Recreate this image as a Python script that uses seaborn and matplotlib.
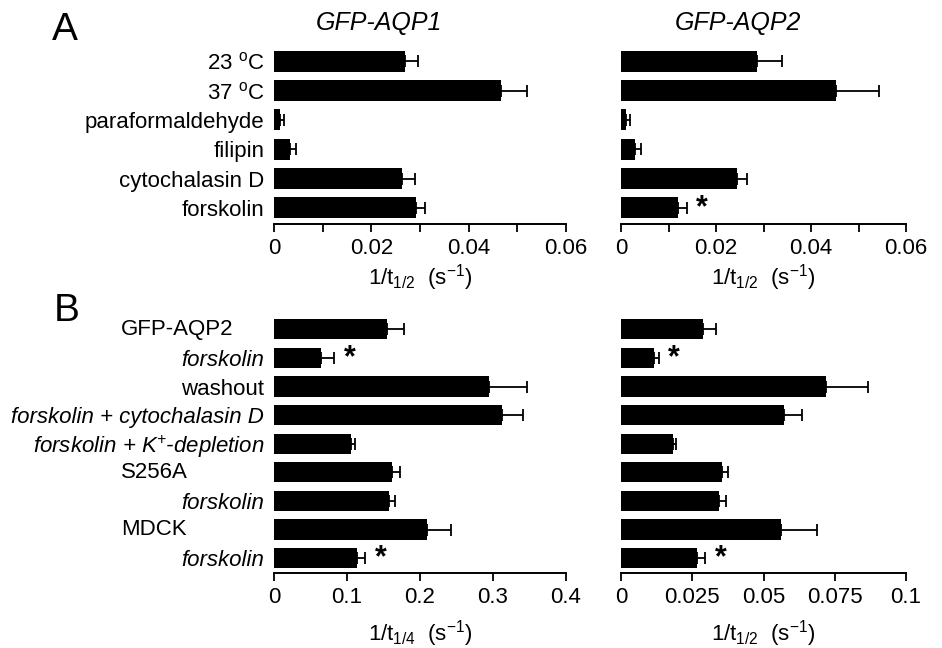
import numpy as np
import pandas as pd
import seaborn as sns
import matplotlib.pyplot as plt

# ---------------------------
# Données

# Panel A
cat_a = ["23 $^{o}$C", "37 $^{o}$C", "paraformaldehyde", "filipin",
         "cytochalasin D", "forskolin"]
aqp1_val = [0.0270, 0.0467, 0.0013, 0.0033, 0.0264, 0.0291]
aqp1_err = [0.0026, 0.0053, 0.0007, 0.0012, 0.0026, 0.0020]
aqp2_val = [0.0287, 0.0452, 0.0011, 0.0030, 0.0245, 0.0119]
aqp2_err = [0.0051, 0.0092, 0.0007, 0.0012, 0.0021, 0.0019]
aqp2_star_a = [False, False, False, False, False, True]

# Panel B
cat_b = ["GFP-AQP2", "forskolin", "washout", "forskolin + cytochalasin D",
         "forskolin + K$^{+}$-depletion", "S256A", "forskolin", "MDCK", "forskolin"]
italic_b = [False, True, False, True, True, False, True, False, True]
entete_b = [True, False, False, False, False, True, False, True, False]  # alignés à gauche
b_left_val = [0.155, 0.065, 0.295, 0.313, 0.105, 0.162, 0.158, 0.209, 0.114]
b_left_err = [0.023, 0.017, 0.052, 0.028, 0.006, 0.011, 0.008, 0.033, 0.011]
b_right_val = [0.0289, 0.0115, 0.0718, 0.0572, 0.0184, 0.0353, 0.0344, 0.0562, 0.0268]
b_right_err = [0.0043, 0.0017, 0.0149, 0.0063, 0.0009, 0.0021, 0.0024, 0.0126, 0.0027]
star_b = [False, True, False, False, False, False, False, False, True]

# ---------------------------

sns.set_style("white")
plt.rcParams['font.family'] = ['Liberation Sans', 'DejaVu Sans']
plt.rcParams['mathtext.default'] = 'regular'
for k in ['text.color', 'axes.labelcolor', 'xtick.color', 'ytick.color']:
    plt.rcParams[k] = 'black'

FS = 16
W, H = 942, 648
fig = plt.figure(figsize=(W / 100, H / 100), dpi=100)


def px_axes(x0, x1, ytop, ybot):
    return fig.add_axes([x0 / W, 1 - ybot / H, (x1 - x0) / W, (ybot - ytop) / H])


def panneau(ax, vals, errs, stars, xmax, major, minor, ylim, labels=None, italics=None):
    n = len(vals)
    df = pd.DataFrame({"pos": [str(i) for i in range(n)], "val": vals})
    sns.barplot(data=df, x="val", y="pos", orient="h", color="black",
                errorbar=None, width=0.71, saturation=1, ax=ax, edgecolor="none")
    ax.errorbar(vals, np.arange(n), xerr=[np.zeros(n), errs], fmt="none",
                ecolor="black", elinewidth=1.3, capsize=4.5, capthick=1.3)
    for i in range(n):
        if stars[i]:
            ax.annotate("*", (vals[i] + errs[i], i), xytext=(7, 0),
                        textcoords="offset points", ha="left", va="center",
                        fontsize=FS + 6, fontweight="bold")
    ax.set_xlim(0, xmax)
    ax.set_ylim(*ylim)
    ax.set_xticks(np.arange(0, xmax + 1e-9, minor), minor=True)
    ax.set_xticks(np.arange(0, xmax + 1e-9, major))
    ax.set_xticklabels([f"{t:g}" for t in np.arange(0, xmax + 1e-9, major)], fontsize=FS)
    ax.tick_params(axis="x", which="both", direction="out", length=6, width=1.3,
                   bottom=True, pad=4)
    ax.tick_params(axis="y", length=0, pad=7)
    for s in ["top", "right", "left"]:
        ax.spines[s].set_visible(False)
    ax.spines["bottom"].set_linewidth(1.4)
    ax.spines["bottom"].set_color("black")
    ax.set_ylabel("")
    if labels is None:
        ax.set_yticklabels([])
    else:
        ax.set_yticklabels(labels, fontsize=FS)
        if italics is not None:
            for lab, it in zip(ax.get_yticklabels(), italics):
                lab.set_fontstyle("italic" if it else "normal")


ylim_a = (5.55, -0.5)
ylim_b = (8.52, -0.5)

ax1 = px_axes(274, 566, 46.6, 224)
panneau(ax1, aqp1_val, aqp1_err, [False] * 6, 0.06, 0.02, 0.01, ylim_a, labels=cat_a)
ax1.set_xlabel("1/t$_{1/2}$  (s$^{-1}$)", fontsize=FS, labelpad=2)
ax1.set_title("GFP-AQP1", fontsize=18, fontstyle="italic", x=0.36, pad=12)

ax2 = px_axes(621, 906, 46.6, 224)
panneau(ax2, aqp2_val, aqp2_err, aqp2_star_a, 0.06, 0.02, 0.01, ylim_a)
ax2.set_xlabel("1/t$_{1/2}$  (s$^{-1}$)", fontsize=FS, labelpad=2)
ax2.set_title("GFP-AQP2", fontsize=18, fontstyle="italic", x=0.41, pad=12)

ax3 = px_axes(274, 566, 315, 573)
# les en-têtes de groupe (GFP-AQP2, S256A, MDCK) sont alignés à gauche
labels_b = ["" if e else c for c, e in zip(cat_b, entete_b)]
panneau(ax3, b_left_val, b_left_err, star_b, 0.4, 0.1, 0.1, ylim_b,
        labels=labels_b, italics=italic_b)
x_entete = (121 - 274) / (566 - 274)
for i, (c, e) in enumerate(zip(cat_b, entete_b)):
    if e:
        ax3.text(x_entete, i, c, transform=ax3.get_yaxis_transform(),
                 ha="left", va="center", fontsize=FS)
ax3.set_xlabel("1/t$_{1/4}$  (s$^{-1}$)", fontsize=FS, labelpad=7)

ax4 = px_axes(621, 906, 315, 573)
panneau(ax4, b_right_val, b_right_err, star_b, 0.1, 0.025, 0.025, ylim_b)
ax4.set_xticklabels(["0", "0.025", "0.05", "0.075", "0.1"], fontsize=FS)
ax4.set_xlabel("1/t$_{1/2}$  (s$^{-1}$)", fontsize=FS, labelpad=7)

fig.text(65 / W, 1 - 30 / H, "A", fontsize=28, ha="center", va="center")
fig.text(67 / W, 1 - 311 / H, "B", fontsize=28, ha="center", va="center")

fig.savefig("out.png", dpi=100)
